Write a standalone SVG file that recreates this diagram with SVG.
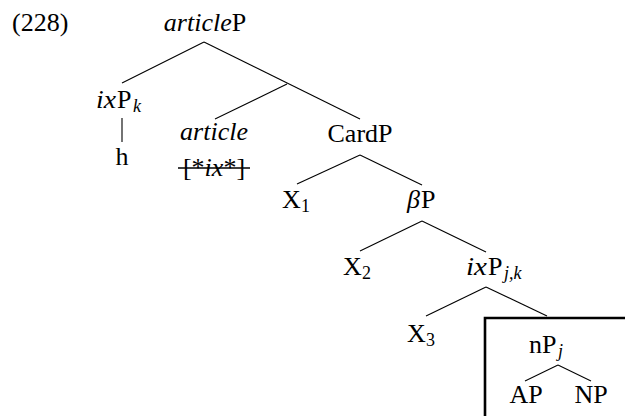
<svg xmlns="http://www.w3.org/2000/svg" width="625" height="416" viewBox="0 0 625 416">
<style>
text{font-family:"Liberation Serif","Times New Roman",serif;font-size:26px;fill:#000}
.i{font-style:italic}
.sub{font-size:18px}
.e line{stroke:#000;stroke-width:1.1}
</style>
<rect width="625" height="416" fill="#fff"/>
<text id="ex" x="12" y="31">(228)</text>
<g class="e" id="connectors">
<line x1="204" y1="42" x2="122" y2="83"/>
<line x1="204" y1="42" x2="360" y2="119"/>
<line x1="287" y1="84" x2="215" y2="119"/>
<line x1="122" y1="118" x2="122" y2="142"/>
<line x1="360" y1="155" x2="297" y2="184"/>
<line x1="360" y1="155" x2="422" y2="185"/>
<line x1="422" y1="221" x2="360" y2="251"/>
<line x1="422" y1="221" x2="486" y2="252"/>
<line x1="486" y1="287" x2="426" y2="316"/>
<line x1="486" y1="287" x2="547" y2="316"/>
<line x1="558" y1="365" x2="525" y2="381"/>
<line x1="558" y1="365" x2="591" y2="381"/>
</g>
<g id="articleP"><text x="205" y="31" text-anchor="middle"><tspan class="i">article</tspan>P</text></g>
<g id="ixPk"><text y="108"><tspan class="i" x="96" textLength="20" lengthAdjust="spacingAndGlyphs">ix</tspan><tspan x="117">P</tspan><tspan class="sub i" x="133" dy="4">k</tspan></text></g>
<g id="h"><text x="122" y="165" text-anchor="middle">h</text></g>
<g id="article">
<text x="214" y="140" text-anchor="middle" class="i">article</text>
<text x="214" y="176" text-anchor="middle">[*<tspan class="i">ix</tspan>*]</text>
<line x1="178" y1="168" x2="250" y2="168" stroke="#000" stroke-width="1.6"/>
</g>
<g id="CardP"><text x="360" y="142" text-anchor="middle">CardP</text></g>
<g id="X1"><text x="282" y="208">X<tspan class="sub" x="301" dy="4">1</tspan></text></g>
<g id="betaP"><text y="208"><tspan class="i" x="407">β</tspan><tspan x="421">P</tspan></text></g>
<g id="X2"><text x="343" y="275">X<tspan class="sub" x="362" dy="4">2</tspan></text></g>
<g id="ixPjk"><text y="275"><tspan class="i" x="466" textLength="21" lengthAdjust="spacingAndGlyphs">ix</tspan><tspan x="488">P</tspan><tspan class="sub i" x="504" dy="4">j,k</tspan></text></g>
<g id="X3"><text x="407" y="342">X<tspan class="sub" x="426" dy="4">3</tspan></text></g>
<g id="box"><path d="M485,420 V318 H630" fill="none" stroke="#000" stroke-width="2.6"/></g>
<g id="nPj"><text y="353"><tspan x="529">n</tspan><tspan x="542">P</tspan><tspan class="sub i" x="558" dy="4">j</tspan></text></g>
<g id="AP"><text x="526" y="403" text-anchor="middle">AP</text></g>
<g id="NP"><text x="591" y="403" text-anchor="middle">NP</text></g>
</svg>
